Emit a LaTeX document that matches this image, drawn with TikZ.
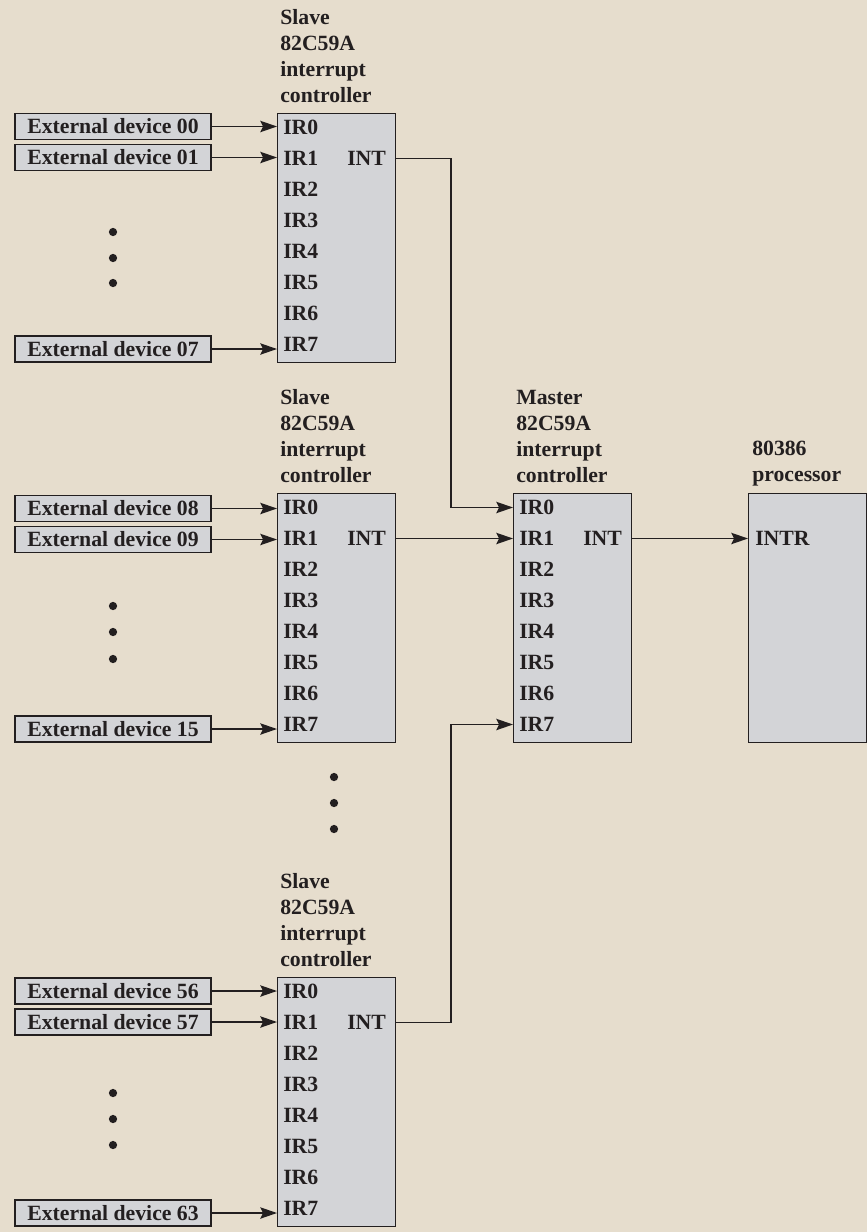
\documentclass[tikz,border=0pt]{standalone}
\usepackage{fontspec}
\setmainfont{Liberation Serif}
\usetikzlibrary{arrows.meta,positioning}
\definecolor{paper}{RGB}{230,221,205}
\definecolor{chipgray}{RGB}{211,212,215}
\definecolor{ink}{RGB}{35,31,32}

\begin{document}
\begin{tikzpicture}[x=0.75pt,y=-0.75pt,>={Stealth[length=12.5pt,width=8.5pt,inset=2pt]},
    every node/.style={font=\fontsize{16.3}{19.5}\selectfont\bfseries,text=ink},
    chip/.style={rectangle,draw=ink,fill=chipgray,line width=1.1pt,anchor=north west,
      minimum width=88.5pt,minimum height=186.75pt,inner sep=0pt},
    dev/.style={rectangle,draw=ink,fill=chipgray,line width=1.1pt,
      minimum width=147pt,minimum height=19.5pt,inner sep=0pt},
    irlabel/.style={anchor=west,inner sep=0pt},
    title/.style={anchor=base west,align=left,inner sep=0pt},
    wire/.style={draw=ink,line width=1.1pt}]
\useasboundingbox (0,0) rectangle (867,1232);
\fill[paper] (0,0) rectangle (867,1232);
\foreach \n/\x/\t/\w in {s1/277/113/Slave,s2/277/493/Slave,s3/277/977/Slave,m/513/493/Master}{
  \node[chip] (\n) at (\x,\t) {};
  \node[title] (\n-title) at (\x+3,\t-11) {\w\\82C59A\\interrupt\\controller};
  \foreach \i in {0,...,7}
    \node[irlabel] (\n-\i) at (\x+6,\t+14.5+31*\i) {IR\i};
  \node[irlabel] (\n-int) at (\x+70,\t+45.5) {INT};
}
\node[chip] (p) at (748,493) {};
\node[title] (p-title) at (752,481) {80386\\processor};
\node[irlabel] (p-intr) at (755,538.5) {INTR};
\foreach \d/\y/\c in {00/126.5/s1,01/157.5/s1,07/349/s1,08/508.5/s2,09/539.5/s2,
    15/729/s2,56/991/s3,57/1022/s3,63/1213/s3}{
  \node[dev] (d\d) at (113,\y) {External device \d};
  \draw[wire,->] (d\d) -- (\c.west |- d\d);
}
\foreach \y in {232,258,283,606,632,659,1093,1119,1145}
  \fill[ink] (113,\y) circle[radius=3.1pt];
\foreach \y in {777,803,829}
  \fill[ink] (334,\y) circle[radius=3.1pt];
\coordinate (bus) at (451,0);
\draw[wire,->] (s1.east |- s1-int) -| (bus |- m-0) -- (m.west |- m-0);
\draw[wire,->] (s2.east |- s2-int) -- (m.west |- m-1);
\draw[wire,->] (s3.east |- s3-int) -| (bus |- m-7) -- (m.west |- m-7);
\draw[wire,->] (m.east |- m-int) -- (p.west |- p-intr);
\end{tikzpicture}
\end{document}
